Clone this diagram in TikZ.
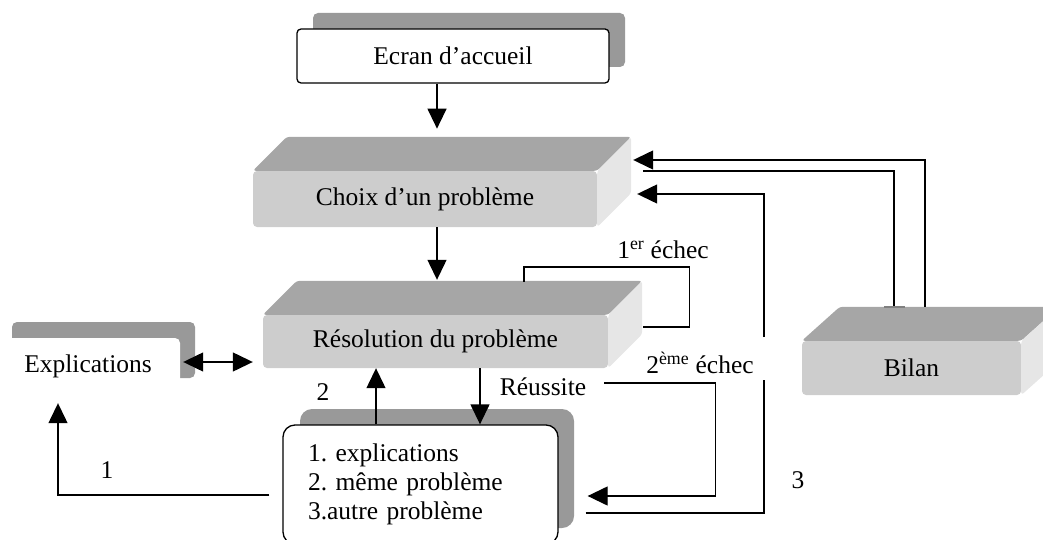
\documentclass[tikz,border=0pt]{standalone}
\usepackage{fontspec}
\setmainfont{Liberation Serif}
\usetikzlibrary{arrows.meta,calc}
\definecolor{topg}{HTML}{A6A6A6}
\definecolor{frontg}{HTML}{CDCDCD}
\definecolor{sideg}{HTML}{E6E6E6}
\definecolor{shadg}{HTML}{999999}
\frenchspacing
\begin{document}
\begin{tikzpicture}[x=1pt,y=-1pt,
  font=\fontsize{25.5}{29}\selectfont,
  arr/.style={-{Triangle[length=20pt,width=19pt]},line width=1.3pt},
  dblarr/.style={{Triangle[length=20pt,width=19pt]}-{Triangle[length=20pt,width=19pt]},line width=1.3pt},
  ln/.style={line width=1.3pt},
  frontface/.style={fill=frontg,rounded corners=4pt,inner sep=0pt},
  wbox/.style={fill=white,draw=black,line width=1.3pt,inner sep=0pt},
  shadowbox/.style={fill=shadg,rounded corners=5pt},
  lbl/.style={inner sep=0pt}]
\useasboundingbox (0,0) rectangle (1043,540);

% Ecran d'accueil
\fill[shadowbox] (313,13) rectangle (625,67);
\node[wbox,rounded corners=4pt,minimum width=312pt,minimum height=54pt] (ecran) at (453,56) {Ecran d’accueil};

% Choix d'un probleme
\node[frontface,minimum width=344pt,minimum height=56pt] (choix) at (425,199) {Choix d’un problème};
\fill[topg,rounded corners=3pt] (choix.north west) -- ++(34,-34) -- ([xshift=34pt,yshift=34pt]choix.north east) -- (choix.north east) -- cycle;
\fill[sideg,rounded corners=3pt] (choix.north east) -- ++(34,-34) -- ([xshift=34pt,yshift=34pt]choix.south east) -- (choix.south east) -- cycle;

% Resolution du probleme
\node[frontface,minimum width=345pt,minimum height=53pt] (resol) at (435.5,341.5) {Résolution du problème};
\fill[topg,rounded corners=3pt] (resol.north west) -- ++(34,-34) -- ([xshift=34pt,yshift=34pt]resol.north east) -- (resol.north east) -- cycle;
\fill[sideg,rounded corners=3pt] (resol.north east) -- ++(34,-34) -- ([xshift=34pt,yshift=34pt]resol.south east) -- (resol.south east) -- cycle;

% Bilan
\node[frontface,minimum width=219pt,minimum height=54pt] (bilan) at (911.5,368) {Bilan};
\fill[topg,rounded corners=3pt] (bilan.north west) -- ++(38,-34) -- ([xshift=38pt,yshift=34pt]bilan.north east) -- (bilan.north east) -- cycle;
\fill[sideg,rounded corners=3pt] (bilan.north east) -- ++(38,-34) -- ([xshift=38pt,yshift=34pt]bilan.south east) -- (bilan.south east) -- cycle;

% Explications
\fill[shadowbox] (12,322) rectangle (195,378);
\node[fill=white,inner sep=0pt,rounded corners=5pt,minimum width=184pt,minimum height=56pt] (explic) at (88,366) {Explications};

% Options
\fill[shadowbox,rounded corners=12pt] (300,409) rectangle (574,528);
\node[wbox,rounded corners=12pt,minimum width=275pt,minimum height=119pt,text width=225pt,inner xsep=25pt,align=left] (options) at (420.5,484.5) {1. explications\\2. même problème\\3.autre problème};

% labels
\node[lbl] (l2) at (323,392) {2};
\node[lbl] (l1) at (107,470) {1};
\node[lbl] (reussite) at (543,387) {Réussite};
\node[lbl] (e1) at (663,250) {1\textsuperscript{er} échec};
\node[lbl] (e2) at (700,363) {2\textsuperscript{ème} échec};
\node[lbl] (l3) at (798,480) {3};

% connectors
\draw[arr] ([xshift=-16pt]ecran.south) -- ++(0,45);
\draw[arr] ([xshift=12pt]choix.south) -- ([xshift=1.5pt,yshift=35pt]resol.north);
\draw[dblarr] ([xshift=3pt,yshift=4pt]explic.east) -- ([xshift=-10pt,yshift=-20.5pt]resol.west);
\draw[arr] ([xshift=-44.5pt]options.north) -- ([xshift=-44.5pt]options.north |- resol.south);
\draw[arr] ([xshift=44.5pt]resol.south) -- ([xshift=44.5pt]resol.south |- options.north);
\draw[arr] ([xshift=-13pt,yshift=-10.5pt]options.west) -| ([xshift=-30pt,yshift=-9pt]explic.south);
\draw[arr] ([xshift=18pt,yshift=4pt]reussite.east) -- ++(111,0) |- ([xshift=29pt,yshift=-11.5pt]options.east);
\coordinate (g1) at (764,380);
\coordinate (g2) at (764,337);
\draw[ln] ([xshift=27pt,yshift=-28.5pt]options.east) -| (g1);
\draw[arr] (g2) |- ([xshift=40pt,yshift=5pt]choix.east);
\draw[arr] ([xshift=13.5pt,yshift=34pt]bilan.north) |- ([xshift=36pt,yshift=39pt]choix.east);
\draw[ln] ([xshift=-17.5pt,yshift=34pt]bilan.north) |- ([xshift=46pt,yshift=28pt]choix.east);
\draw[gray,line width=1.5pt] ([xshift=-27.5pt,yshift=34pt]bilan.north) -- ([xshift=-6.5pt,yshift=34pt]bilan.north);
\draw[ln] ([xshift=35pt,yshift=14.5pt]resol.east) -- ++(46,0) -- ++(0,-60) -| ([xshift=88.5pt,yshift=33pt]resol.north);
\end{tikzpicture}
\end{document}
